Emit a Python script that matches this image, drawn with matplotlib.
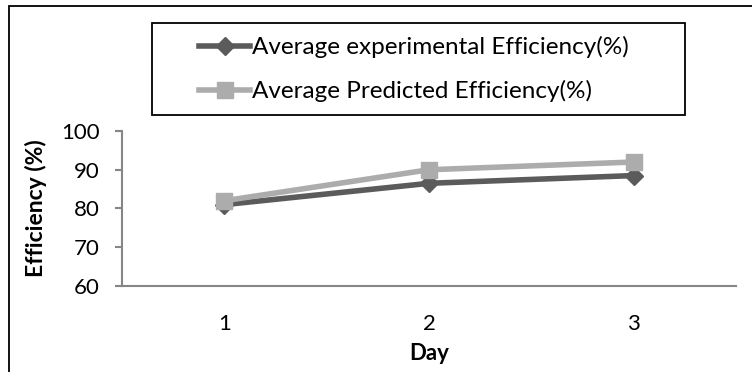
import matplotlib
matplotlib.use("Agg")
import matplotlib.pyplot as plt
from matplotlib.patches import Rectangle

days = [1, 2, 3]
day_labels = ["1", "2", "3"]
exp_eff = [81.0, 86.5, 88.5]
pred_eff = [82.0, 90.0, 92.0]
yticks = [60, 70, 80, 90, 100]

plt.rcParams['font.family'] = ['Lato', 'DejaVu Sans']

fig = plt.figure(figsize=(7.52, 3.72), dpi=100)
ax = fig.add_axes([122/752, 1-286/372, (736-122)/752, (286-131)/372])

dark = '#5b5b5b'
light = '#acacac'
l1, = ax.plot(days, exp_eff, color=dark, lw=4, marker='D', ms=9, mfc=dark, mec=dark,
              label='Average experimental Efficiency(%)', zorder=3)
l2, = ax.plot(days, pred_eff, color=light, lw=4, marker='s', ms=11, mfc=light, mec=light,
              label='Average Predicted Efficiency(%)', zorder=4)

ax.set_xlim(0.5, 3.5)
ax.set_ylim(60, 100)
ax.set_yticks(yticks)
ax.set_xticks(days)
ax.set_xticklabels(day_labels)
ax.tick_params(axis='y', direction='out', length=5, width=1.5, color='#868686', labelsize=16, pad=11)
ax.tick_params(axis='x', length=0, labelsize=16, pad=20)
for s in ['top', 'right']:
    ax.spines[s].set_visible(False)
for s in ['left', 'bottom']:
    ax.spines[s].set_color('#868686')
    ax.spines[s].set_linewidth(1.5)

ax.set_xlabel('Day', fontsize=16, fontweight='bold', labelpad=7)
ax.set_ylabel('Efficiency (%)', fontsize=16.5, fontweight='bold', labelpad=10)

# legend frame
fig.patches.append(Rectangle((152/752, 1-115/372), (685-152)/752, (115-23)/372,
                             transform=fig.transFigure, fill=False, ec='black', lw=1.3))
fig.legend(handles=[l1, l2], loc='center left', bbox_to_anchor=(199/752, 1-69/372),
           frameon=False, fontsize=17.5, handlelength=2.1, handletextpad=0.08,
           labelspacing=0.9, borderpad=0, borderaxespad=0)

# outer border
fig.patches.append(Rectangle((9/752, -0.1), 1.2, 1.1 - 6/372,
                             transform=fig.transFigure, fill=False, ec='black', lw=1.3))

fig.savefig('out.png', dpi=100)
